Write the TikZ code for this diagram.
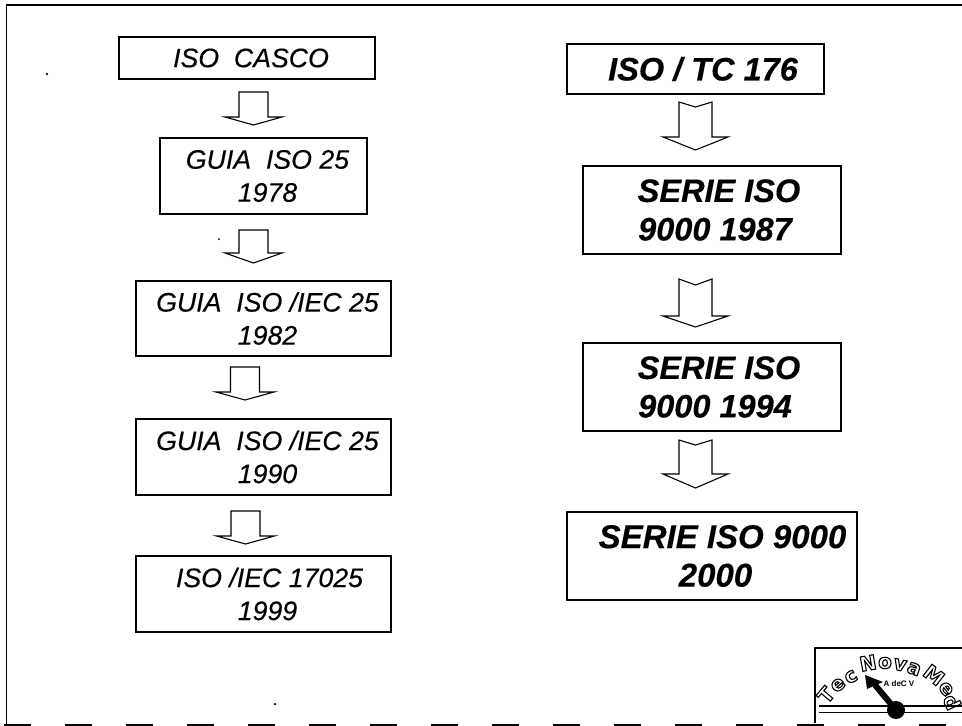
\documentclass[tikz,border=0pt]{standalone}
\usepackage{fontspec}
\setmainfont{Liberation Sans}[ItalicFeatures={FakeBold=0.35},BoldItalicFeatures={FakeBold=0.3}]
\newfontfamily\logofont{DejaVu Sans Bold}
\newcommand{\outlinetext}[1]{\special{pdf:code q 1 Tr 1.1 w}#1\special{pdf:code Q}}
\newcommand{\sh}[1]{\hspace*{#1pt}}
\newcommand{\blockarrow}[7]{% cx, top, notch, headtop, tip, halfshaft, halfhead
  \draw[barrow] (#1-#6,#2) -- (#1,#3) -- (#1+#6,#2) -- (#1+#6,#4) -- (#1+#7,#4) -- (#1,#5) -- (#1-#7,#4) -- (#1-#6,#4) -- cycle;}
\tikzset{
  x=1pt,y=-1pt,
  lbox/.style={draw=black,line width=1.1pt,align=center,inner sep=0pt,font=\fontsize{26.7}{33}\selectfont\itshape},
  rbox/.style={draw=black,line width=1.1pt,align=center,inner sep=0pt,font=\fontsize{32.5}{38.5}\selectfont\bfseries\itshape},
  barrow/.style={draw=black,line width=1.1pt,fill=white,line join=miter},
  frameline/.style={draw=black,line width=1.4pt},
  speck/.style={fill=black,inner sep=0pt,minimum size=2.5pt,circle},
  logoletter/.style={font=\fontsize{20}{20}\selectfont\logofont,inner sep=0pt}
}
\begin{document}
\begin{tikzpicture}
\useasboundingbox (0,0) rectangle (962,726);
\fill[white] (0,0) rectangle (962,726);
% frame
\draw[frameline] (6.5,725) -- (6.5,5) -- (962,5);
\draw[frameline,dash pattern=on 27pt off 34pt] (4,725) -- (962,725);
% specks
\node[speck] (s1) at (47,74) {};
\node[speck,minimum size=2pt] (s2) at (219,239) {};
\node[speck] (s3) at (275,704) {};
% left column
\node[lbox,minimum width=256,minimum height=42] (a1) at (247,58) {\sh{8}ISO\ \ CASCO};
\node[lbox,minimum width=207,minimum height=76] (a2) at (263.5,176) {\sh{8}GUIA\ \ ISO 25\\\sh{8}1978};
\node[lbox,minimum width=255,minimum height=75] (a3) at (263.5,318.5) {\sh{8}GUIA\ \ ISO /IEC 25\\\sh{8}1982};
\node[lbox,minimum width=255,minimum height=76] (a4) at (263.5,457) {\sh{8}GUIA\ \ ISO /IEC 25\\\sh{8}1990};
\node[lbox,minimum width=255,minimum height=76] (a5) at (263.5,594) {\sh{12}ISO /IEC 17025\\\sh{8}1999};
% right column
\node[rbox,minimum width=257,minimum height=50] (b1) at (695.5,69) {\sh{15}ISO / TC 176};
\node[rbox,minimum width=258,minimum height=88] (b2) at (712,210) {\sh{14}SERIE ISO\\\sh{6}9000 1987};
\node[rbox,minimum width=258,minimum height=88] (b3) at (712,387) {\sh{14}SERIE ISO\\\sh{6}9000 1994};
\node[rbox,minimum width=290,minimum height=88,font=\fontsize{33}{38.5}\selectfont\bfseries\itshape] (b4) at (712,556) {\sh{21}SERIE ISO 9000\\\sh{7}2000};
% arrows
\blockarrow{253.5}{92}{92}{117}{125}{14.5}{28.5}
\blockarrow{253.5}{230}{230}{253}{263}{14.5}{28.5}
\blockarrow{245}{367}{367}{392}{400}{14.5}{29}
\blockarrow{245.5}{511}{511}{536}{544}{14.5}{29}
\blockarrow{695.5}{102}{107}{137}{150}{16.5}{32.5}
\blockarrow{695.5}{279}{285}{316}{327}{16.5}{32.5}
\blockarrow{695.5}{440}{445}{474}{488}{16.5}{32.5}
% logo
\draw[line width=1.1pt] (815,723) -- (815,648) -- (962,648);
\draw[line width=2pt] (819,706) -- (962,706);
\draw[line width=1pt] (819,712) -- (962,712);
\foreach \ch/\px/\py/\an in {T/826/695/50, e/838/685/40, c/851/677/30, N/868/663/10, o/885/663/-3, v/900/665/-12, a/914/669/-20, M/934/675/-38, e/946/689/-52, d/952/702/-65}
  \node[logoletter,rotate=\an] at (\px,\py) {\outlinetext{\ch}};
\node[font=\fontsize{8}{8}\selectfont\bfseries,inner sep=0pt] (sa) at (899,684) {A deC V};
\node[circle,fill=black,minimum size=18pt,inner sep=0pt] (hub) at (896,710) {};
\coordinate (tip) at (865,675);
\draw[black,line width=6pt] (hub.center) -- (875,685);
\fill[black] (tip) -- (883,682) -- (867,689) -- cycle;
\end{tikzpicture}
\end{document}
